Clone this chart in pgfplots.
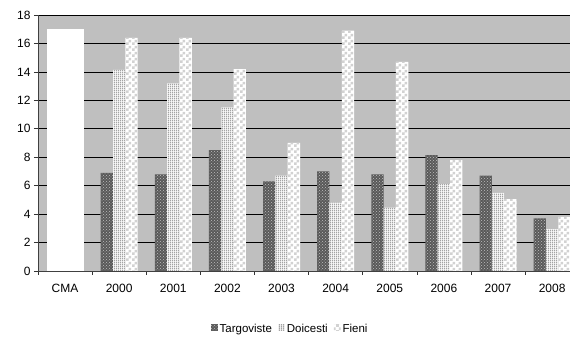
\documentclass[border=0pt]{standalone}
\usepackage{pgfplots}
\pgfplotsset{compat=1.18}
\usetikzlibrary{patterns}
\usepackage{fontspec}
\setmainfont{Liberation Sans}
\pgfdeclarepatternformonly{densevlines}{\pgfqpoint{0pt}{0pt}}{\pgfqpoint{2.2pt}{2pt}}{\pgfqpoint{2.2pt}{2pt}}{%
  \pgfsetlinewidth{1.0pt}%
  \pgfpathmoveto{\pgfqpoint{1.1pt}{-0.1pt}}%
  \pgfpathlineto{\pgfqpoint{1.1pt}{2.1pt}}%
  \pgfusepath{stroke}}
\pgfdeclarepatternformonly{smallcheck}{\pgfqpoint{0pt}{0pt}}{\pgfqpoint{6pt}{6pt}}{\pgfqpoint{6pt}{6pt}}{%
  \pgfpathrectangle{\pgfqpoint{0pt}{0pt}}{\pgfqpoint{3pt}{3pt}}%
  \pgfpathrectangle{\pgfqpoint{3pt}{3pt}}{\pgfqpoint{3pt}{3pt}}%
  \pgfusepath{fill}}
\begin{document}
\begin{tikzpicture}
\useasboundingbox (-38pt,-68pt) rectangle (532pt,271pt);
\begin{axis}[
  at={(0,0)}, anchor=south west,
  scale only axis, width=532pt, height=256pt,
  xmin=-0.5, xmax=9.33, ymin=0, ymax=18,
  clip=true,
  axis background/.style={fill=gray!50},
  axis x line*=bottom, axis y line*=left,
  axis line style={black!75, line width=0.8pt},
  ymajorgrids, grid style={black, line width=0.6pt},
  ytick={0,2,...,18},
  xtick={-0.5,0.5,...,8.5},
  xticklabels={CMA,2000,2001,2002,2003,2004,2005,2006,2007,2008},
  x tick label style={xshift=27.05pt, yshift=-6pt},
  tick align=outside, major tick length=4pt,
  tick style={black!80, line width=0.6pt},
  ticklabel style={font=\fontsize{12}{14}\selectfont},
  /pgf/number format/assume math mode=true,
  legend style={at={(0.474,-0.225)}, anchor=center, draw=none, fill=none,
    legend columns=-1, font=\fontsize{11.5}{13}\selectfont,
    /tikz/every even column/.append style={column sep=4pt}},
  legend image code/.code={\draw[#1, draw=none] (0cm,-0.08cm) rectangle (0.24cm,0.16cm);},
]
\addplot[ybar, bar width=0.684, bar shift=0, fill=white, draw=none, forget plot]
  coordinates {(0,17)};
\addplot[ybar, bar width=0.228, bar shift=-0.228, draw=none, fill=black!65,
  postaction={pattern=crosshatch dots, pattern color=white!75!black}]
  coordinates {(1,6.9) (2,6.8) (3,8.5) (4,6.3) (5,7.0) (6,6.8) (7,8.15) (8,6.7) (9,3.7)};
\addlegendentry{Targoviste}
\addplot[ybar, bar width=0.228, bar shift=0, draw=none, fill=white,
  postaction={pattern=densevlines, pattern color=black!55}]
  coordinates {(1,14.15) (2,13.2) (3,11.5) (4,6.7) (5,4.8) (6,4.45) (7,6.1) (8,5.5) (9,2.95)};
\addlegendentry{Doicesti}
\addplot[ybar, bar width=0.228, bar shift=0.228, draw=none, fill=white,
  postaction={pattern=smallcheck, pattern color=gray!35}]
  coordinates {(1,16.4) (2,16.4) (3,14.2) (4,9.0) (5,16.9) (6,14.7) (7,7.8) (8,5.05) (9,3.8)};
\addlegendentry{Fieni}
\end{axis}
\end{tikzpicture}
\end{document}
